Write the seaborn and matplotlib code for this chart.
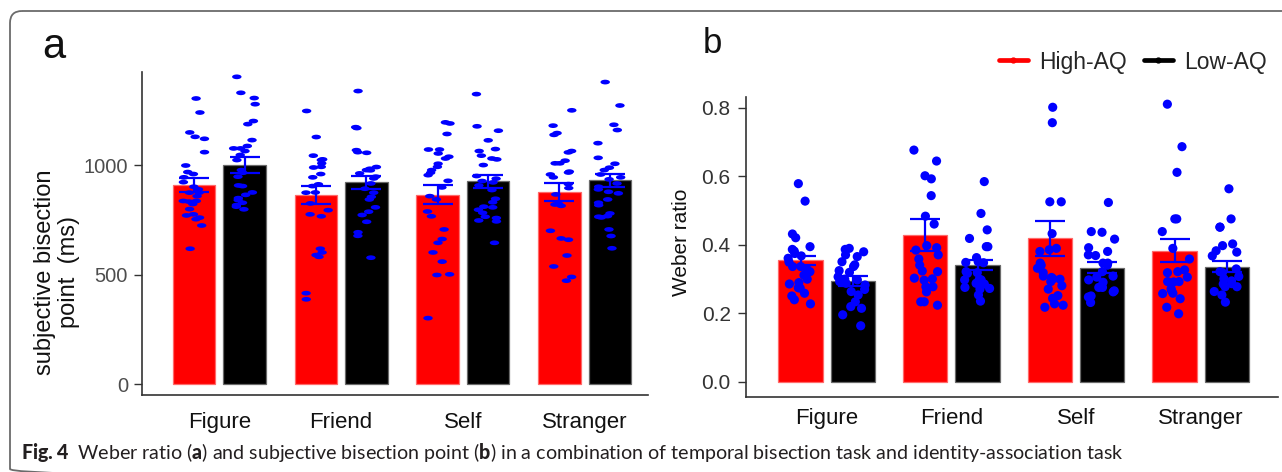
import numpy as np
import pandas as pd
import matplotlib
matplotlib.use("Agg")
import matplotlib.pyplot as plt
import seaborn as sns
from matplotlib.markers import MarkerStyle
from matplotlib.transforms import Affine2D
from matplotlib.patches import FancyBboxPatch
from matplotlib.lines import Line2D

# ---------------- data ----------------
categories = ["Figure", "Friend", "Self", "Stranger"]
groups = ["High-AQ", "Low-AQ"]

# panel a: subjective bisection point (ms)
a_mean_high = [908, 863, 865, 875]
a_mean_low = [1000, 921, 925, 930]
a_se_high = [32, 43, 43, 41]
a_se_low = [35, 30, 29, 31]

a_high_figure = [1304, 1240, 1149, 1129, 1120, 1059, 998, 968, 944, 959, 922, 901, 889, 874, 874,
                 858, 836, 836, 833, 822, 799, 760, 775, 770, 753, 724, 618]
a_low_figure = [1403, 1330, 1306, 1278, 1187, 1201, 1114, 1076, 1076, 1087, 1064, 1046, 1023, 977,
                965, 947, 907, 904, 875, 864, 849, 840, 828, 817, 810, 798]
a_high_friend = [1247, 1128, 1043, 1008, 1026, 1023, 992, 989, 959, 944, 912, 904, 875, 874, 825,
                 794, 775, 766, 618, 601, 589, 581, 415, 387]
a_low_friend = [1338, 1169, 1173, 1068, 1056, 1059, 991, 983, 977, 976, 962, 947, 939, 916, 892,
                874, 855, 843, 807, 787, 772, 741, 693, 677, 577]
a_high_self = [1195, 1190, 1142, 1071, 1071, 1053, 1038, 1030, 1006, 992, 977, 965, 954, 928, 898,
               858, 843, 788, 766, 706, 662, 645, 601, 559, 501, 498, 301]
a_low_self = [1324, 1177, 1157, 1113, 1073, 1064, 1043, 1030, 1026, 1000, 950, 938, 927, 921, 907,
              886, 846, 830, 810, 807, 796, 782, 764, 758, 747, 743, 645]
a_high_stranger = [1250, 1146, 1180, 1138, 1058, 1064, 1020, 1008, 1008, 966, 970, 957, 944, 913,
                   895, 866, 820, 823, 814, 700, 659, 665, 587, 537, 489, 472]
a_low_stranger = [1379, 1272, 1184, 1160, 1100, 1033, 1006, 977, 988, 957, 944, 935, 916, 901, 878,
                  889, 871, 843, 828, 817, 779, 764, 761, 767, 706, 676, 620]

# panel b: Weber ratio
b_mean_high = [0.355, 0.429, 0.419, 0.383]
b_mean_low = [0.295, 0.342, 0.334, 0.337]
b_se_high = [0.014, 0.046, 0.051, 0.034]
b_se_low = [0.014, 0.015, 0.015, 0.015]

b_high_figure = [0.579, 0.528, 0.432, 0.421, 0.395, 0.387, 0.382, 0.375, 0.368, 0.361, 0.350, 0.337,
                 0.337, 0.330, 0.322, 0.312, 0.300, 0.290, 0.286, 0.274, 0.275, 0.259, 0.251, 0.240, 0.228]
b_low_figure = [0.387, 0.390, 0.380, 0.371, 0.351, 0.366, 0.337, 0.342, 0.325, 0.320, 0.307, 0.300,
                0.298, 0.293, 0.288, 0.283, 0.270, 0.264, 0.254, 0.234, 0.220, 0.215, 0.196, 0.164]
b_high_friend = [0.677, 0.645, 0.593, 0.602, 0.544, 0.484, 0.461, 0.385, 0.398, 0.392, 0.371, 0.359,
                 0.341, 0.322, 0.324, 0.303, 0.301, 0.297, 0.278, 0.278, 0.263, 0.234, 0.234, 0.224]
b_low_friend = [0.492, 0.585, 0.444, 0.419, 0.395, 0.395, 0.363, 0.351, 0.349, 0.348, 0.317, 0.319,
                0.322, 0.298, 0.300, 0.288, 0.298, 0.286, 0.273, 0.276, 0.271, 0.254, 0.236]
b_high_self = [0.757, 0.802, 0.526, 0.526, 0.433, 0.390, 0.381, 0.386, 0.347, 0.341, 0.332, 0.319,
               0.309, 0.305, 0.301, 0.300, 0.293, 0.281, 0.271, 0.252, 0.244, 0.228, 0.218, 0.224]
b_low_self = [0.524, 0.439, 0.437, 0.417, 0.392, 0.369, 0.381, 0.371, 0.347, 0.347, 0.341, 0.322,
              0.309, 0.306, 0.291, 0.298, 0.276, 0.276, 0.266, 0.263, 0.251, 0.248, 0.232]
b_high_stranger = [0.811, 0.687, 0.612, 0.476, 0.476, 0.439, 0.390, 0.359, 0.327, 0.322, 0.319, 0.306,
                   0.292, 0.293, 0.293, 0.272, 0.267, 0.259, 0.258, 0.243, 0.218, 0.199]
b_low_stranger = [0.564, 0.476, 0.452, 0.452, 0.403, 0.398, 0.383, 0.379, 0.368, 0.330, 0.322, 0.319,
                  0.308, 0.301, 0.295, 0.286, 0.278, 0.287, 0.278, 0.264, 0.254, 0.233]

caption = (r"$\mathbf{Fig.\!\,4}$  Weber ratio ($\mathbf{a}$) and subjective bisection point ($\mathbf{b}$) "
           r"in a combination of temporal bisection task and identity-association task")

# ---------------- style ----------------
sns.set_theme(style="ticks")
plt.rcParams['font.family'] = ['Liberation Sans', 'DejaVu Sans']
plt.rcParams['mathtext.fontset'] = 'custom'
plt.rcParams['mathtext.rm'] = 'Lato'
plt.rcParams['mathtext.bf'] = 'Lato:black'

BAR_COLORS = {"High-AQ": "#ff0000", "Low-AQ": "#000000"}
EDGE_COLORS = {"High-AQ": "#ff6a6a", "Low-AQ": "#6a6a6a"}
PT_COLORS = {"High-AQ": "#0000ff", "Low-AQ": "#0000ff"}

W, H = 1282, 472
fig = plt.figure(figsize=(W / 100, H / 100), dpi=100)

bg = fig.add_axes([0, 0, 1, 1], zorder=-10)
bg.set_xlim(0, W)
bg.set_ylim(H, 0)
bg.axis('off')
bg.add_patch(FancyBboxPatch((10, 11), 1300, 470, boxstyle="round,pad=0,rounding_size=12",
                            fill=False, ec='#6b6b6b', lw=1.3))


def make_panel(ax, means_high, means_low, ses_high, ses_low, pts_high, pts_low,
               width, gap, jitter, marker, msize):
    df_bar = pd.DataFrame({
        "category": categories * 2,
        "group": [groups[0]] * 4 + [groups[1]] * 4,
        "value": list(means_high) + list(means_low),
    })
    sns.barplot(data=df_bar, x="category", y="value", hue="group", order=categories,
                hue_order=groups, palette=BAR_COLORS, width=width, gap=gap,
                errorbar=None, saturation=1, legend=False, ax=ax, zorder=1)
    bar_conts = list(ax.containers)[:2]
    for cont, g in zip(bar_conts, groups):
        for bar in cont:
            bar.set_edgecolor(EDGE_COLORS[g])
            bar.set_linewidth(0.9)

    rows = []
    for g, gd in zip(groups, [pts_high, pts_low]):
        for c, vals in zip(categories, gd):
            for v in vals:
                rows.append((c, g, v))
    df_pts = pd.DataFrame(rows, columns=["category", "group", "value"])
    sns.stripplot(data=df_pts, x="category", y="value", hue="group", order=categories,
                  hue_order=groups, palette=PT_COLORS, dodge=True, jitter=jitter,
                  marker=marker, size=msize, linewidth=0, legend=False, ax=ax, zorder=3)

    for cont, se_list in zip(bar_conts, [ses_high, ses_low]):
        for bar, se in zip(cont, se_list):
            x = bar.get_x() + bar.get_width() / 2
            ax.errorbar(x, bar.get_height(), yerr=se, color="#0000ff", capsize=11,
                        elinewidth=1.6, capthick=1.6, zorder=4)

    ax.set_xlabel("")
    sns.despine(ax=ax)
    for s in ["left", "bottom"]:
        ax.spines[s].set_color("#333333")
        ax.spines[s].set_linewidth(1.2)


np.random.seed(3)

# ---- panel a ----
axa = fig.add_axes([142 / W, (H - 395) / H, (648 - 142) / W, (395 - 72) / H])
ell = MarkerStyle("o", transform=Affine2D().scale(1.0, 0.5))
make_panel(axa, a_mean_high, a_mean_low, a_se_high, a_se_low,
           [a_high_figure, a_high_friend, a_high_self, a_high_stranger],
           [a_low_figure, a_low_friend, a_low_self, a_low_stranger],
           width=0.83, gap=0.16, jitter=0.2, marker=ell, msize=6.8)
axa.set_xlim(-0.634, 3.52)
axa.set_ylim(-50, 1425)
axa.set_yticks([0, 500, 1000])
axa.tick_params(axis="y", length=6, width=1, color="#333333", labelcolor="#4d4d4d",
                labelsize=14.5, pad=4)
axa.tick_params(axis="x", length=0, labelsize=16, labelcolor="#111111", pad=12)
axa.set_ylabel("subjective bisection\npoint  (ms)", fontsize=17, color="#111111",
               ha="center", va="center", linespacing=1.12)
axa.yaxis.set_label_coords(-0.168, 0.381)

# ---- panel b ----
axb = fig.add_axes([746 / W, (H - 397) / H, (1278 - 746) / W, (397 - 97) / H])
make_panel(axb, b_mean_high, b_mean_low, b_se_high, b_se_low,
           [b_high_figure, b_high_friend, b_high_self, b_high_stranger],
           [b_low_figure, b_low_friend, b_low_self, b_low_stranger],
           width=0.84, gap=0.15, jitter=0.22, marker="o", msize=6.6)
axb.set_xlim(-0.648, 3.62)
axb.set_ylim(-0.044, 0.832)
axb.set_yticks([0.0, 0.2, 0.4, 0.6, 0.8])
axb.set_yticklabels([f"{v:.1f}" for v in [0.0, 0.2, 0.4, 0.6, 0.8]])
axb.tick_params(axis="y", length=6, width=1, color="#333333", labelcolor="#333333",
                labelsize=15, pad=5)
axb.tick_params(axis="x", length=0, labelsize=16, labelcolor="#111111", pad=8)
axb.set_ylabel("Weber ratio", fontsize=15, color="#111111", ha="center", va="center")
axb.yaxis.set_label_coords(-0.122, 0.517)

# ---- panel letters ----
fig.text(42 / W, 1 - 58 / H, "a", fontsize=30, va="baseline", ha="left", color="#111111")
fig.text(703 / W, 1 - 53 / H, "b", fontsize=25, va="baseline", ha="left", color="#111111")

# ---- legend ----
handles = [Line2D([0], [0], color=BAR_COLORS[g], lw=3.4, marker="o", markersize=3.5) for g in groups]
fig.legend(handles, groups, loc="center left", bbox_to_anchor=(999 / W, 1 - 62 / H), ncol=2,
           frameon=False, fontsize=16.5, handlelength=1.25, handletextpad=0.5,
           columnspacing=0.75, borderpad=0, borderaxespad=0)

# ---- caption ----
cap = fig.text(21 / W, 1 - 459 / H, caption, fontfamily="Lato", fontsize=12.5,
               va="baseline", ha="left", color="#231f20")
r = fig.canvas.get_renderer()
wcap = cap.get_window_extent(r).width
cap.set_fontsize(12.5 * 1104 / wcap)

fig.savefig("out.png", dpi=100)
